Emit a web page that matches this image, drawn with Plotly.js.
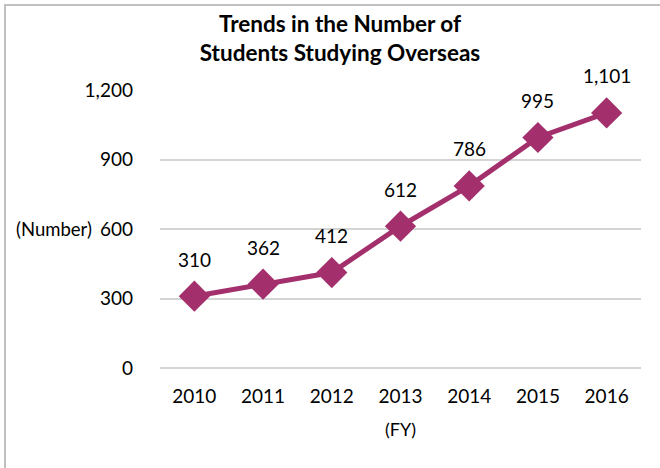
<!DOCTYPE html>
<html>
<head>
<meta charset="utf-8">
<script src="https://cdn.plot.ly/plotly-3.0.1.min.js"></script>
<style>
html,body{margin:0;padding:0;background:#fff;}
#wrap{position:relative;width:660px;height:468px;overflow:hidden;}
#chart{position:absolute;left:0;top:0;width:660px;height:468px;}
#frame{position:absolute;left:4px;top:4px;right:-10px;bottom:-10px;border-left:2px solid #c0c0c0;border-top:2px solid #c0c0c0;pointer-events:none;}
</style>
</head>
<body>
<div id="wrap"><div id="chart"></div><div id="frame"></div></div>
<script>
const years = ["2010","2011","2012","2013","2014","2015","2016"];
const students = [310, 362, 412, 612, 786, 995, 1101];
const yTicks = [0, 300, 600, 900, 1200];
const yTickText = ["0", "300", "600", "900", "1,200"];

const lineColor = "#A3306C";
const fontFam = "Lato, 'Open Sans', sans-serif";

const trace = {
  x: years,
  y: students,
  type: "scatter",
  mode: "lines+markers",
  line: {color: lineColor, width: 5},
  marker: {symbol: "diamond", size: 24, color: lineColor},
  hoverinfo: "skip",
  showlegend: false
};

const labelAnns = years.map((yr, i) => ({
  x: i, y: students[i], xref: "x", yref: "y",
  text: students[i].toLocaleString("en-US"),
  showarrow: false, yshift: 37,
  font: {family: fontFam, size: 19, color: "#000"}
}));

labelAnns.push({
  xref: "paper", yref: "y", x: -0.137, y: 600, xanchor: "right", yanchor: "middle",
  text: "(Number)", showarrow: false,
  font: {family: fontFam, size: 18.5, color: "#000"}
});

const layout = {
  width: 660, height: 468,
  margin: {l: 160, r: 19, t: 90, b: 100},
  paper_bgcolor: "#fff", plot_bgcolor: "#fff",
  font: {family: fontFam, size: 19, color: "#000"},
  title: {
    text: "<b>Trends in the Number of<br>Students Studying Overseas</b>",
    x: 340/660, xanchor: "center", y: 0.932, yanchor: "top",
    font: {family: fontFam, size: 22.5, color: "#000"}
  },
  xaxis: {
    type: "category",
    range: [-0.5, 6.5],
    showgrid: false, zeroline: false, showline: false,
    ticks: "", ticklabelstandoff: 15,
    tickfont: {family: fontFam, size: 19, color: "#000"},
    title: {text: "(FY)", standoff: 17, font: {family: fontFam, size: 18, color: "#000"}}
  },
  yaxis: {
    range: [0, 1200],
    tickvals: yTicks, ticktext: yTickText,
    showgrid: true, gridcolor: "#d4d4d4", gridwidth: 2,
    zeroline: true, zerolinecolor: "#d4d4d4", zerolinewidth: 2,
    showline: false, ticks: "", ticklabelstandoff: 26,
    tickfont: {family: fontFam, size: 19, color: "#000"}
  },
  annotations: labelAnns
};

Plotly.newPlot("chart", [trace], layout, {displayModeBar: false, staticPlot: true});
</script>
</body>
</html>
